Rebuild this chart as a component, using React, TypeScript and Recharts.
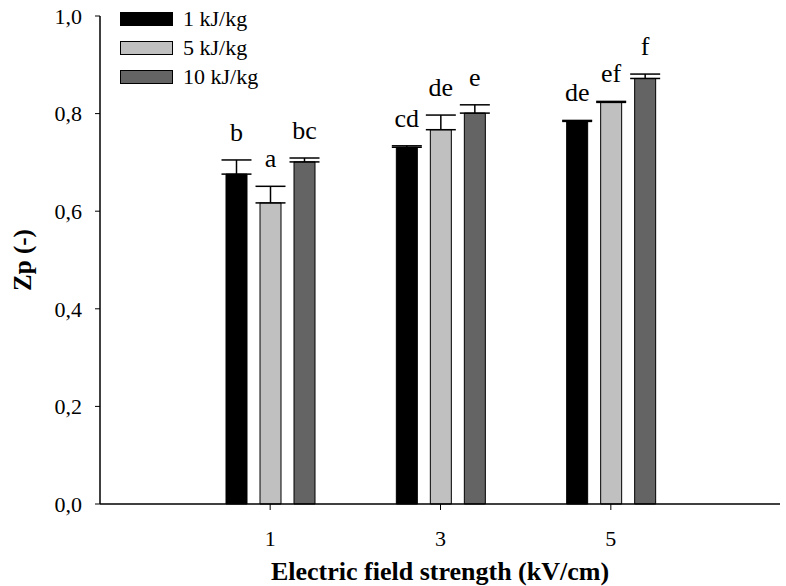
import { Bar, BarChart, ErrorBar, LabelList, XAxis, YAxis } from "recharts";

const fields = ["1", "3", "5"];
const seriesNames = ["1 kJ/kg", "5 kJ/kg", "10 kJ/kg"];
const kj1 = [0.676, 0.731, 0.784];
const kj5 = [0.617, 0.767, 0.823];
const kj10 = [0.701, 0.801, 0.872];
const err1 = [0.029, 0.003, 0.002];
const err5 = [0.034, 0.03, 0.002];
const err10 = [0.008, 0.017, 0.009];
const letters1 = ["b", "cd", "de"];
const letters5 = ["a", "de", "ef"];
const letters10 = ["bc", "e", "f"];
const yTicks = [0, 0.2, 0.4, 0.6, 0.8, 1.0];

const fills = ["#000000", "#c0c0c0", "#646464"];
const FONT = "Liberation Serif, serif";

const data = fields.map((f, i) => ({
  field: f,
  kj1: kj1[i],
  kj5: kj5[i],
  kj10: kj10[i],
  e1: [0, err1[i]],
  e5: [0, err5[i]],
  e10: [0, err10[i]],
}));

const makeLetter = (letters: string[], errs: number[]) => (props: any) => {
  const { x, y, width, height, value, index } = props;
  const errPx = value ? (errs[index] * height) / value : 0;
  return (
    <text
      x={x + width / 2}
      y={y - errPx - 19}
      textAnchor="middle"
      style={{ fontFamily: FONT, fontSize: 26 }}
      fill="#000"
    >
      {letters[index]}
    </text>
  );
};

const LegendBox = () => (
  <div
    style={{
      position: "absolute",
      left: 120,
      top: 4,
      fontFamily: FONT,
      fontSize: 22,
      color: "#000",
      lineHeight: 1,
    }}
  >
    {seriesNames.map((n, i) => (
      <div key={n} style={{ display: "flex", alignItems: "center", height: 29 }}>
        <div
          style={{
            width: 51,
            height: 12,
            background: fills[i],
            border: "1px solid #000",
            marginRight: 10,
          }}
        />
        <span>{n}</span>
      </div>
    ))}
  </div>
);

const YTitle = (props: any) => {
  const { viewBox } = props;
  const cy = viewBox.y + viewBox.height / 2;
  return (
    <text
      x={22}
      y={cy}
      transform={`rotate(-90, 22, ${cy})`}
      textAnchor="middle"
      dominantBaseline="central"
      style={{ fontFamily: FONT, fontWeight: "bold", fontSize: 25 }}
      fill="#000"
    >
      Zp (-)
    </text>
  );
};

const tickStyle = { fill: "#000", fontSize: 22, fontFamily: FONT };

export default function App() {
  return (
    <div style={{ position: "absolute", left: 0, top: 0, width: 786, height: 586, background: "#fff", fontFamily: FONT }}>
      <BarChart
        width={786}
        height={586}
        data={data}
        margin={{ top: 16, right: 6, left: 0, bottom: 0 }}
        barSize={21}
        barGap={13}
        style={{ fontFamily: FONT }}
      >
        <XAxis
          dataKey="field"
          height={82}
          padding={{ left: 85, right: 84 }}
          axisLine={{ stroke: "#000", strokeWidth: 1.5 }}
          tickLine={{ stroke: "#000" }}
          tickSize={6}
          tickMargin={20}
          tick={tickStyle}
          label={{
            value: "Electric field strength (kV/cm)",
            position: "insideBottom",
            offset: 6,
            fill: "#000",
            fontSize: 26,
            fontWeight: "bold",
            fontFamily: FONT,
          }}
        />
        <YAxis
          width={100}
          domain={[0, 1]}
          ticks={yTicks}
          interval={0}
          tickFormatter={(v: number) => v.toFixed(1).replace(".", ",")}
          axisLine={{ stroke: "#000", strokeWidth: 1.5 }}
          tickLine={{ stroke: "#000" }}
          tickSize={5}
          tickMargin={13}
          tick={tickStyle}
          label={<YTitle />}
        />
        <Bar dataKey="kj1" name={seriesNames[0]} fill={fills[0]} stroke="#000" isAnimationActive={false}>
          <ErrorBar dataKey="e1" width={15} stroke="#000" strokeWidth={1.5} direction="y" />
          <LabelList dataKey="kj1" content={makeLetter(letters1, err1)} />
        </Bar>
        <Bar dataKey="kj5" name={seriesNames[1]} fill={fills[1]} stroke="#000" isAnimationActive={false}>
          <ErrorBar dataKey="e5" width={15} stroke="#000" strokeWidth={1.5} direction="y" />
          <LabelList dataKey="kj5" content={makeLetter(letters5, err5)} />
        </Bar>
        <Bar dataKey="kj10" name={seriesNames[2]} fill={fills[2]} stroke="#000" isAnimationActive={false}>
          <ErrorBar dataKey="e10" width={15} stroke="#000" strokeWidth={1.5} direction="y" />
          <LabelList dataKey="kj10" content={makeLetter(letters10, err10)} />
        </Bar>
      </BarChart>
      <LegendBox />
    </div>
  );
}
